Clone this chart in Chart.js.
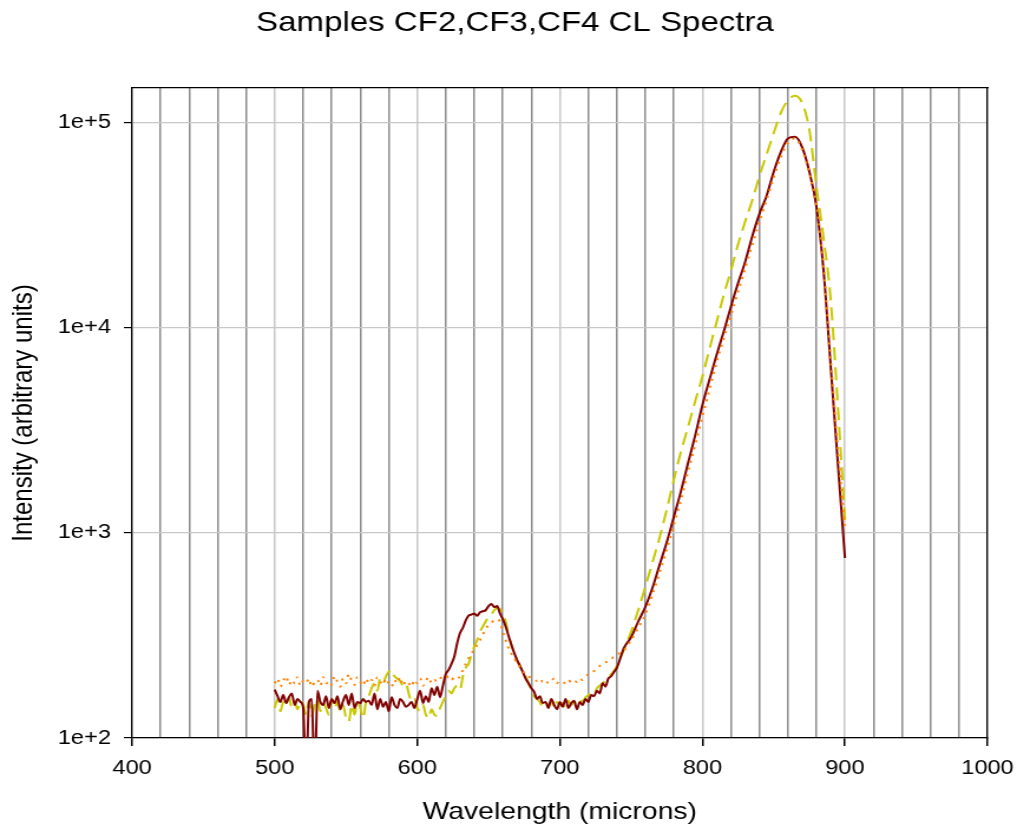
<!DOCTYPE html>
<html>
<head>
<meta charset="utf-8">
<script src="https://cdn.jsdelivr.net/npm/chart.js@4"></script>
<style>
  html, body { margin: 0; padding: 0; background: #fff; overflow: hidden; }
  #wrap { width: 1017px; height: 829px; }
  /* the reference is drawn a little wider than tall, so stretch the canvas */
  #spectra { transform: scale(1.1798, 1); transform-origin: 0 0; }
</style>
</head>
<body>
<div id="wrap"><canvas id="spectra" width="862" height="829"></canvas></div>
<script>
// wavelengths, 2 nm steps through the noisy part, 5 nm steps over the big peak
const lowWavelengths = [
  500, 502, 504, 506, 508, 510, 512, 514, 516, 518,
  520, 522, 524, 526, 528, 530, 532, 534, 536, 538,
  540, 542, 544, 546, 548, 550, 552, 554, 556, 558,
  560, 562, 564, 566, 568, 570, 572, 574, 576, 578,
  580, 582, 584, 586, 588, 590, 592, 594, 596, 598,
  600, 602, 604, 606, 608, 610, 612, 614, 616, 618,
  620, 622, 624, 626, 628, 630, 632, 634, 636, 638,
  640, 642, 644, 646, 648, 650, 652, 654, 656, 658,
  660, 662, 664, 666, 668, 670, 672, 674, 676, 678,
  680, 682, 684, 686, 688, 690, 692, 694, 696, 698,
  700, 702, 704, 706, 708, 710, 712, 714, 716, 718,
  720, 722, 724, 726, 728, 730, 732, 734, 736, 738,
  740
];
const highWavelengths = [
  745, 750, 755, 760, 765, 770, 775, 780, 785, 790,
  795, 800, 805, 810, 815, 820, 825, 830, 835, 840,
  845, 850, 855, 860, 865, 870, 875, 880, 885, 890,
  895, 900
];

const cf2Low = [
  172, 160, 150, 162, 148, 158, 165, 145, 155, 150,
  140, 60, 150, 155, 60, 170, 150, 145, 160, 140,
  155, 148, 160, 138, 152, 162, 145, 165, 140, 150,
  148, 155, 150, 152, 145, 165, 138, 155, 142, 150,
  135, 158, 145, 140, 155, 150, 142, 145, 150, 140,
  155, 170, 148, 160, 150, 175, 162, 178, 158, 180,
  205, 215, 230, 250, 290, 325, 345, 375, 395, 400,
  405, 395, 410, 415, 420, 440, 450, 435, 440, 405,
  380, 350, 315, 285, 260, 240, 225, 210, 195, 185,
  175, 168, 155, 160, 148, 150, 140, 155, 145, 138,
  150, 142, 155, 140, 148, 152, 138, 150, 145, 155,
  150, 162, 160, 170, 165, 185, 178, 195, 200, 210,
  220
];
const cf2High = [
  275, 310, 370, 436, 540, 700, 900, 1200, 1600, 2200,
  3000, 4200, 5600, 7400, 9600, 12700, 16500, 21000, 28000, 36000,
  44000, 57600, 72000, 84000, 85500, 76000, 58000, 39000, 19000, 6500,
  2200, 755
];

const cf3Low = [
  140, 155, 135, 150, 145, 158, 140, 150, 138, 152,
  145, 130, 150, 128, 145, 155, 135, 148, 140, 130,
  155, 140, 150, 135, 145, 125, 120, 145, 130, 150,
  140, 125, 150, 160, 175, 185, 170, 195, 185, 200,
  210, 215, 200, 195, 190, 180, 185, 165, 150, 155,
  140, 135, 145, 130, 125, 138, 130, 128, 140, 150,
  160, 170, 165, 175, 180, 172, 200, 220, 230, 255,
  280, 300, 330, 350, 370, 390, 400, 420, 430, 425,
  405, 370, 320, 285, 260, 240, 225, 210, 200, 185,
  172, 160, 155, 150, 142, 148, 145, 152, 140, 150,
  145, 148, 140, 152, 145, 150, 148, 155, 150, 158,
  162, 168, 165, 175, 180, 185, 190, 198, 205, 212,
  225
];
const cf3High = [
  270, 330, 420, 547, 720, 950, 1300, 1820, 2500, 3300,
  4400, 5800, 7900, 10700, 14500, 19000, 25500, 33000, 42000, 55000,
  70000, 89000, 112000, 129000, 135500, 125000, 93000, 49000, 27500, 13800,
  4200, 1150
];

const cf4Low = [
  185, 195, 178, 190, 200, 182, 192, 185, 198, 180,
  190, 185, 195, 178, 188, 192, 180, 198, 185, 190,
  182, 200, 188, 178, 195, 185, 205, 190, 182, 198,
  188, 180, 195, 185, 192, 180, 198, 188, 182, 195,
  185, 178, 192, 185, 198, 180, 190, 185, 178, 192,
  185, 195, 180, 190, 198, 185, 192, 188, 195, 198,
  195, 200, 192, 198, 195, 200, 215, 230, 245, 258,
  270, 285, 300, 320, 340, 355, 365, 375, 380, 370,
  330, 300, 275, 258, 245, 232, 222, 212, 205, 200,
  196, 192, 190, 195, 188, 192, 185, 190, 195, 185,
  190, 188, 185, 192, 186, 190, 188, 195, 192, 200,
  205, 208, 212, 218, 225, 232, 234, 236, 242, 250,
  255
];
const cf4High = [
  268, 300, 345, 400, 500, 640, 830, 1100, 1450, 2000,
  2700, 3700, 5000, 6800, 8900, 11500, 15000, 19500, 25500, 33000,
  42000, 54000, 68000, 80000, 84000, 74000, 57000, 40000, 20000, 7000,
  2600, 1050
];

const xTickLabels = [400, 500, 600, 700, 800, 900, 1000];
const yTickValues = [100, 1000, 10000, 100000];

const wavelengths = lowWavelengths.concat(highWavelengths);
const toPoints = vals => wavelengths.map((w, i) => ({ x: w, y: vals[i] }));

Chart.defaults.font.family = "'Liberation Sans', Arial, sans-serif";
Chart.defaults.color = '#000';

new Chart(document.getElementById('spectra'), {
  type: 'line',
  data: {
    datasets: [
      {
        label: 'CF4',
        data: toPoints(cf4Low.concat(cf4High)),
        borderColor: '#ff8000',
        borderWidth: 2,
        borderDash: [2, 5],
        pointRadius: 0,
        xAxisID: 'x',
        yAxisID: 'y'
      },
      {
        label: 'CF2',
        data: toPoints(cf2Low.concat(cf2High)),
        borderColor: '#800000',
        borderWidth: 2,
        pointRadius: 0,
        xAxisID: 'x',
        yAxisID: 'y'
      },
      {
        label: 'CF3',
        data: toPoints(cf3Low.concat(cf3High)),
        borderColor: 'rgb(200, 200, 0)',
        borderWidth: 2,
        borderDash: [13, 7],
        pointRadius: 0,
        xAxisID: 'x',
        yAxisID: 'y'
      }
    ]
  },
  options: {
    responsive: false,
    animation: false,
    cubicInterpolationMode: 'monotone',
    layout: { padding: { left: 11, right: 0, top: 0, bottom: 0 } },
    plugins: {
      legend: { display: false },
      tooltip: { enabled: false },
      title: {
        display: true,
        text: 'Samples CF2,CF3,CF4 CL Spectra',
        font: { size: 28, weight: 'normal' },
        color: '#000',
        padding: { top: 6, bottom: 48.4 }
      }
    },
    scales: {
      x: {
        type: 'linear',
        position: 'bottom',
        min: 400,
        max: 1000,
        afterFit: s => { s.height = 91; s.paddingLeft = 0; s.paddingRight = 0; },
        ticks: {
          stepSize: 20,
          autoSkip: false,
          maxRotation: 0,
          padding: 10,
          font: { size: 20 },
          callback: v => xTickLabels.includes(v) ? String(v) : ''
        },
        grid: {
          color: c => (c.tick && c.tick.value % 100 === 0) ? '#c8c8c8' : '#8c8c8c',
          tickColor: c => (c.tick && c.tick.value % 100 === 0) ? '#000' : 'rgba(0,0,0,0)',
          lineWidth: 1.5,
          tickLength: 8
        },
        border: { color: '#000', width: 1.3 },
        title: {
          display: true,
          text: 'Wavelength (microns)',
          font: { size: 24 },
          color: '#000',
          padding: { top: 0, bottom: 2.6 }
        }
      },
      x2: {
        type: 'linear',
        position: 'top',
        min: 400,
        max: 1000,
        afterFit: s => { s.height = 0; s.paddingLeft = 0; s.paddingRight = 0; },
        ticks: { display: false },
        grid: { color: 'rgba(0,0,0,0)', drawTicks: false },
        border: { color: '#000', width: 1.3 }
      },
      y: {
        type: 'logarithmic',
        position: 'left',
        min: 100,
        max: 148000,
        afterBuildTicks: s => { s.ticks = yTickValues.map(v => ({ value: v })); },
        afterFit: s => { s.width = 101; },
        ticks: {
          padding: 11,
          font: { size: 20 },
          callback: v => '1e+' + Math.round(Math.log10(v))
        },
        grid: { color: '#c8c8c8', lineWidth: 1.2, tickColor: '#000', tickLength: 7 },
        border: { color: '#000', width: 1.3 },
        title: {
          display: true,
          text: 'Intensity (arbitrary units)',
          font: { size: 24 },
          color: '#000',
          padding: { top: -5, bottom: 0 }
        }
      },
      y2: {
        type: 'logarithmic',
        position: 'right',
        min: 100,
        max: 148000,
        afterFit: s => { s.width = 25; },
        ticks: { display: false },
        grid: { color: 'rgba(0,0,0,0)', drawTicks: false },
        border: { color: '#000', width: 1.3 }
      }
    }
  }
});
</script>
</body>
</html>
